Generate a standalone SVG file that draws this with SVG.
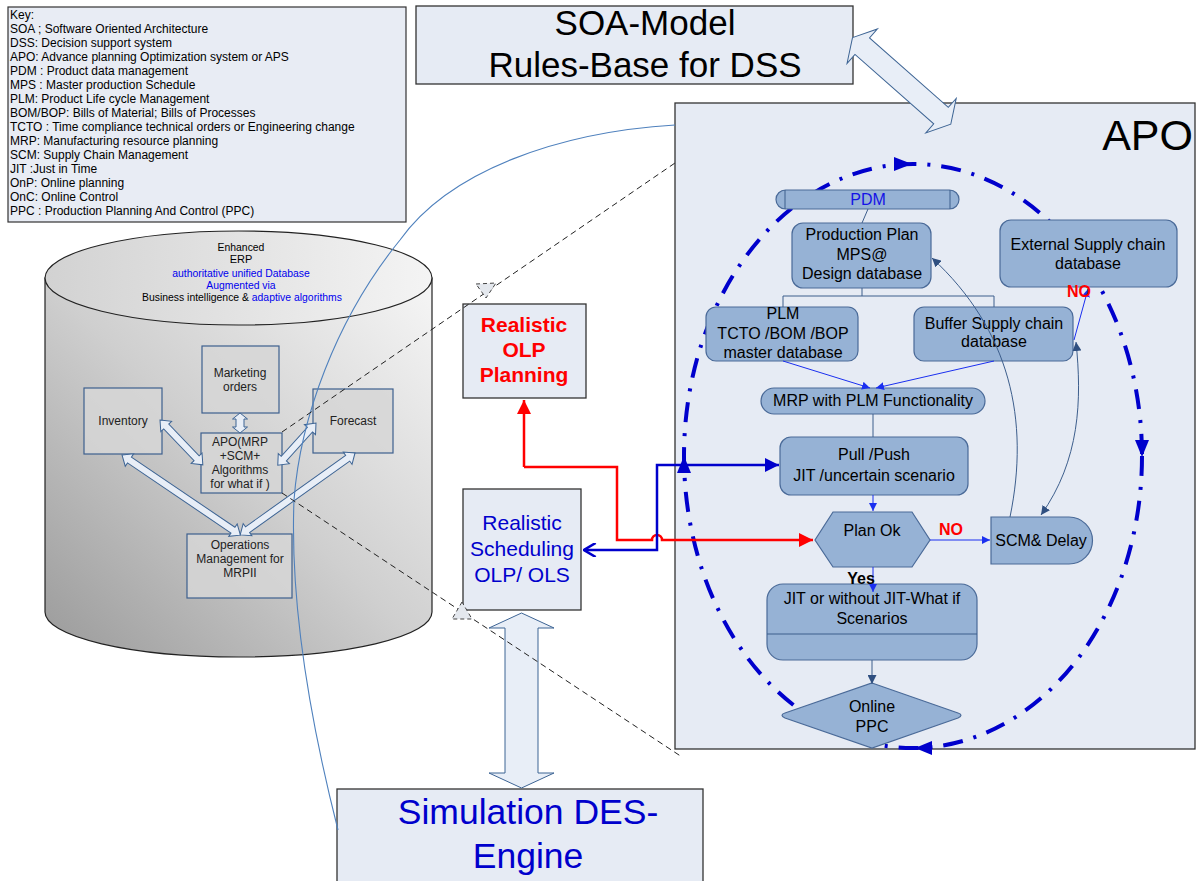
<svg xmlns="http://www.w3.org/2000/svg" width="1197" height="881" viewBox="0 0 1197 881">
<style>
text{font-family:"Liberation Sans",Arial,sans-serif;}
.k{font-size:12px;fill:#000;}
.c{text-anchor:middle;}
.pale{fill:#e6ebf4;stroke:#333;stroke-width:1.3;}
.node{fill:#96b2d5;stroke:#4a6a98;stroke-width:1.2;}
.gbox{fill:#d6d6d6;fill-opacity:0.85;stroke:#3d5f8e;stroke-width:1.2;}
.blk{fill:#e8eef7;stroke:#3d6494;stroke-width:1;}
.t16{font-size:16px;fill:#000;}
.t12{font-size:12px;fill:#222;}
.t10{font-size:10.4px;fill:#000;}
.blue{fill:#0000ee;}
.dash{fill:none;stroke:#222;stroke-width:1;stroke-dasharray:6 4;}
.ln{fill:none;stroke:#3d5e8c;stroke-width:1;}
.lnb{fill:none;stroke:#1a2ff0;stroke-width:1;}
</style>
<defs>
<linearGradient id="gBody" x1="0" y1="1" x2="1" y2="0">
<stop offset="0" stop-color="#9a9a9a"/>
<stop offset="0.5" stop-color="#cfcfcf"/>
<stop offset="1" stop-color="#f6f6f6"/>
</linearGradient>
<linearGradient id="gTop" x1="0" y1="0" x2="1" y2="0">
<stop offset="0" stop-color="#d2d2d2"/>
<stop offset="1" stop-color="#f4f4f4"/>
</linearGradient>
<marker id="mB" viewBox="0 0 10 10" refX="10" refY="5" markerWidth="8" markerHeight="8" markerUnits="userSpaceOnUse" orient="auto-start-reverse"><path d="M0,0 L10,5 L0,10 Z" fill="#1a2ff0"/></marker>
<marker id="mD" viewBox="0 0 10 10" refX="10" refY="5" markerWidth="9" markerHeight="9" markerUnits="userSpaceOnUse" orient="auto-start-reverse"><path d="M0,0 L10,5 L0,10 Z" fill="#2f4f80"/></marker>
<marker id="mR" viewBox="0 0 10 10" refX="10" refY="5" markerWidth="14" markerHeight="14" markerUnits="userSpaceOnUse" orient="auto-start-reverse"><path d="M0,0 L10,5 L0,10 Z" fill="#ff0000"/></marker>
<marker id="mBB" viewBox="0 0 10 10" refX="10" refY="5" markerWidth="14" markerHeight="14" markerUnits="userSpaceOnUse" orient="auto-start-reverse"><path d="M0,0 L10,5 L0,10 Z" fill="#0000cc"/></marker>
<marker id="mOpen" viewBox="0 0 12 12" refX="1" refY="6" markerWidth="14" markerHeight="14" markerUnits="userSpaceOnUse" orient="auto"><path d="M11,0 L1,6 L11,12" fill="none" stroke="#0000cc" stroke-width="2.2"/></marker>
</defs>

<rect width="1197" height="881" fill="#ffffff"/>

<!-- Key -->
<g id="key">
<rect x="8" y="7" width="398" height="215" fill="#e8ecf4" stroke="#333" stroke-width="1.2"/>
<text class="k" x="10" y="18.5">Key:</text>
<text class="k" x="10" y="32.5">SOA ; Software Oriented Architecture</text>
<text class="k" x="10" y="46.6">DSS: Decision support system</text>
<text class="k" x="10" y="60.6">APO: Advance planning Optimization system or APS</text>
<text class="k" x="10" y="74.7">PDM : Product data management</text>
<text class="k" x="10" y="88.7">MPS : Master production Schedule</text>
<text class="k" x="10" y="102.7">PLM: Product Life cycle Management</text>
<text class="k" x="10" y="116.8">BOM/BOP: Bills of Material; Bills of Processes</text>
<text class="k" x="10" y="130.8">TCTO : Time compliance technical orders or Engineering change</text>
<text class="k" x="10" y="144.9">MRP: Manufacturing resource planning</text>
<text class="k" x="10" y="158.9">SCM: Supply Chain Management</text>
<text class="k" x="10" y="172.9">JIT :Just in Time</text>
<text class="k" x="10" y="187">OnP: Online planning</text>
<text class="k" x="10" y="201">OnC: Online Control</text>
<text class="k" x="10" y="215">PPC : Production Planning And Control (PPC)</text>
</g>

<!-- SOA box -->
<g id="soa">
<rect x="416" y="6" width="437" height="78" class="pale" stroke="#444"/>
<text class="c" x="645" y="35" font-size="35" fill="#000">SOA-Model</text>
<text class="c" x="645" y="77" font-size="35" fill="#000">Rules-Base for DSS</text>
</g>

<!-- ERP cylinder -->
<g id="erp">
<path d="M45,278 L45,612 A193.5,45 0 0 0 432,612 L432,278 Z" fill="url(#gBody)" stroke="#222" stroke-width="1.2"/>
<ellipse cx="238.5" cy="278" rx="193.5" ry="47" fill="url(#gTop)" stroke="#222" stroke-width="1.2"/>
<text class="t10 c" x="241" y="251">Enhanced</text>
<text class="c" x="241" y="263" font-size="11" fill="#000">ERP</text>
<text class="t10 c blue" x="241" y="277">authoritative unified Database</text>
<text class="t10 c blue" x="241" y="289">Augmented via</text>
<text class="t10 c" x="242" y="301">Business intelligence &amp; <tspan fill="#0000ee">adaptive algorithms</tspan></text>
</g>

<g id="marketing">
<rect x="202" y="346" width="77" height="67" class="gbox"/>
<text class="t12 c" x="240" y="377">Marketing</text>
<text class="t12 c" x="240" y="391">orders</text>
</g>
<g id="inventory">
<rect x="84" y="388" width="78" height="66" class="gbox"/>
<text class="t12 c" x="123" y="425">Inventory</text>
</g>
<g id="forecast">
<rect x="313" y="389" width="80" height="64" class="gbox"/>
<text class="t12 c" x="353" y="425">Forecast</text>
</g>
<g id="apo-node">
<rect x="201" y="433" width="81" height="60" class="gbox"/>
<text class="t12 c" x="240" y="446">APO(MRP</text>
<text class="t12 c" x="240" y="460">+SCM+</text>
<text class="t12 c" x="240" y="474">Algorithms</text>
<text class="t12 c" x="240" y="488">for what if )</text>
</g>
<g id="operations">
<rect x="187" y="534" width="105" height="64" class="gbox"/>
<text class="t12 c" x="240" y="549">Operations</text>
<text class="t12 c" x="240" y="563">Management for</text>
<text class="t12 c" x="240" y="577">MRPII</text>
</g>

<!-- block arrows in ERP -->
<g id="erp-arrows">
<path class="blk" transform="translate(160,420) rotate(46.3)" d="M0,0 L9,-7.5 L9,-3.5 L53,-3.5 L53,-7.5 L62,0 L53,7.5 L53,3.5 L9,3.5 L9,7.5 Z"/>
<path class="blk" transform="translate(316,423) rotate(132.1)" d="M0,0 L9,-7.5 L9,-3.5 L48,-3.5 L48,-7.5 L57,0 L48,7.5 L48,3.5 L9,3.5 L9,7.5 Z"/>
<path class="blk" transform="translate(122,455) rotate(34.1)" d="M0,0 L9,-7.5 L9,-3.5 L134,-3.5 L134,-7.5 L143,0 L134,7.5 L134,3.5 L9,3.5 L9,7.5 Z"/>
<path class="blk" transform="translate(355,453) rotate(144.5)" d="M0,0 L9,-7.5 L9,-3.5 L132,-3.5 L132,-7.5 L141,0 L132,7.5 L132,3.5 L9,3.5 L9,7.5 Z"/>
<path class="blk" transform="translate(240,413) rotate(90)" d="M0,0 L6,-7.5 L6,-4 L14,-4 L14,-7.5 L20,0 L14,7.5 L14,4 L6,4 L6,7.5 Z"/>
</g>

<!-- Realistic OLP Planning -->
<g id="olp">
<rect x="463" y="304" width="123" height="94" class="pale"/>
<text class="c" x="524" y="332" font-size="21" font-weight="bold" fill="#ff0000">Realistic</text>
<text class="c" x="524" y="357" font-size="21" font-weight="bold" fill="#ff0000">OLP</text>
<text class="c" x="524" y="382" font-size="21" font-weight="bold" fill="#ff0000">Planning</text>
</g>

<!-- Realistic Scheduling -->
<g id="sched">
<rect x="463" y="489" width="118" height="121" class="pale"/>
<text class="c" x="522" y="530" font-size="21" fill="#0000cc">Realistic</text>
<text class="c" x="522" y="556" font-size="21" fill="#0000cc">Scheduling</text>
<text class="c" x="522" y="582" font-size="21" fill="#0000cc">OLP/ OLS</text>
</g>

<!-- Simulation -->
<g id="sim">
<rect x="337" y="789" width="366" height="100" class="pale" stroke="#555"/>
<text class="c" x="528" y="824" font-size="35.5" fill="#0000cc">Simulation DES-</text>
<text class="c" x="528" y="868" font-size="35.5" fill="#0000cc">Engine</text>
</g>

<!-- APO box -->
<g id="apo">
<rect x="675" y="103" width="520" height="646" class="pale"/>
<text x="1193" y="150" font-size="43" fill="#000" text-anchor="end">APO</text>
</g>

<!-- dash-dot cycle -->
<g id="cycle">
<ellipse cx="913" cy="456" rx="229" ry="292" fill="none" stroke="#0000cc" stroke-width="4" stroke-dasharray="20 11 3 11"/>
<polygon points="912,164 894,157 894,171" fill="#0000cc"/>
<polygon points="1142,457 1135,440 1149,440" fill="#0000cc"/>
<polygon points="915,748 932,741 932,755" fill="#0000cc"/>
<polygon points="684,456 677,473 691,473" fill="#0000cc"/>
</g>

<!-- APO flow nodes -->
<g id="pdm">
<rect x="776" y="190" width="183" height="19" rx="9.5" class="node"/>
<line x1="785" y1="190" x2="785" y2="209" class="ln"/>
<line x1="950" y1="190" x2="950" y2="209" class="ln"/>
<text class="c" x="868" y="205" font-size="16" fill="#1414e6">PDM</text>
</g>
<g id="prodplan">
<rect x="792" y="223" width="139" height="65" rx="11" class="node"/>
<text class="t16 c" x="862" y="240">Production Plan</text>
<text class="t16 c" x="862" y="260">MPS@</text>
<text class="t16 c" x="862" y="279">Design database</text>
</g>
<g id="external">
<rect x="1000" y="220" width="177" height="67" rx="11" class="node"/>
<text class="t16 c" x="1088" y="250">External Supply chain</text>
<text class="t16 c" x="1088" y="269">database</text>
</g>
<g id="plm">
<rect x="706" y="307" width="152" height="54" rx="10" class="node"/>
<text class="t16 c" x="783" y="319">PLM</text>
<text class="t16 c" x="783" y="339">TCTO /BOM /BOP</text>
<text class="t16 c" x="783" y="358">master database</text>
</g>
<g id="buffer">
<rect x="914" y="307" width="159" height="54" rx="10" class="node"/>
<text class="t16 c" x="994" y="329">Buffer Supply chain</text>
<text class="t16 c" x="994" y="347">database</text>
</g>
<g id="mrp">
<rect x="761" y="388" width="224" height="26" rx="13" class="node"/>
<text class="t16 c" x="873" y="406">MRP with PLM Functionality</text>
</g>
<g id="pullpush">
<rect x="780" y="437" width="188" height="58" rx="11" class="node"/>
<text class="t16 c" x="874" y="460">Pull /Push</text>
<text class="t16 c" x="874" y="481">JIT /uncertain scenario</text>
</g>
<g id="planok">
<polygon points="833,512 912,512 930,540 912,567 833,567 815,540" class="node"/>
<text class="t16 c" x="872" y="536">Plan Ok</text>
</g>
<g id="scmdelay">
<path d="M991,517 H1069 A23.5,23.5 0 0 1 1069,564 H991 Z" class="node"/>
<text class="t16 c" x="1041" y="546">SCM&amp; Delay</text>
</g>
<g id="jit">
<rect x="767" y="584" width="210" height="76" rx="16" class="node"/>
<line x1="767" y1="634" x2="977" y2="634" class="ln"/>
<text class="t16 c" x="872" y="604">JIT or without JIT-What if</text>
<text class="t16 c" x="872" y="624">Scenarios</text>
</g>
<g id="onlineppc">
<path d="M872,683 L958,713 Q964,715 958,718 L872,748 L785,718 Q779,715 785,713 Z" class="node"/>
<text class="t16 c" x="872" y="712">Online</text>
<text class="t16 c" x="872" y="732">PPC</text>
</g>

<!-- connectors -->
<g id="connectors">
<path class="blk" transform="translate(852.5,37.6) rotate(41.4)" d="M0,0 L13,-23 L13,-11 L118,-11 L118,-23 L131,0 L118,23 L118,11 L13,11 L13,23 Z"/>
<polygon class="blk" points="521.5,613 554,628 538,628 538,773 554,773 521.5,788 489,773 505,773 505,628 489,628"/>

<path d="M675,125 C560,132 450,170 400,240 C335,320 300,420 294,500 C290,600 310,720 338,830" fill="none" stroke="#4f81bd" stroke-width="1.1"/>

<line x1="282" y1="432" x2="675" y2="163" class="dash"/>
<polygon points="476,284 496,283 486,298" fill="#e4e8ee" stroke="#444" stroke-width="1" stroke-dasharray="4 3"/>
<line x1="282" y1="493" x2="682" y2="757" class="dash"/>
<polygon points="462,602 452,619 472,619" fill="#e4e8ee" stroke="#444" stroke-width="1" stroke-dasharray="4 3"/>

<path d="M524,467 L617,467 L617,540 L652,540 A5,5 0 0 1 662,540 L813,540" fill="none" stroke="#ff0000" stroke-width="2.5" marker-end="url(#mR)"/>
<path d="M524,467 L524,400" fill="none" stroke="#ff0000" stroke-width="2.5" marker-end="url(#mR)"/>
<path d="M584,550 L657,550 L657,465 L779,465" fill="none" stroke="#0000cc" stroke-width="2.5" marker-start="url(#mOpen)" marker-end="url(#mBB)"/>

<line x1="868" y1="209" x2="862" y2="223" class="ln"/>
<path d="M862,288 V296 M783,296 H994 M783,296 V307 M994,296 V307" class="ln"/>
<path d="M783,361 L870,388" class="lnb" marker-end="url(#mB)"/>
<path d="M994,361 L876,388" class="lnb" marker-end="url(#mB)"/>
<path d="M873,414 V437" class="ln"/>
<path d="M873,495 V511" class="lnb" marker-end="url(#mB)"/>
<path d="M930,540 H990" class="lnb" marker-end="url(#mB)"/>
<path d="M873,567 V592" class="lnb" marker-end="url(#mB)"/>
<path d="M872,660 V684" class="ln" marker-end="url(#mD)"/>
<path d="M1010,517 C1030,420 1010,330 932,258" class="ln" marker-end="url(#mD)"/>
<path d="M1074,340 L1088,289" class="lnb" marker-end="url(#mB)"/>
<path d="M1076,342 C1082,400 1080,460 1041,515" class="ln" marker-start="url(#mD)" marker-end="url(#mD)"/>

<text class="c" x="1079" y="297" font-size="16" font-weight="bold" fill="#ff0000">NO</text>
<text class="c" x="951" y="535" font-size="16" font-weight="bold" fill="#ff0000">NO</text>
<text class="c" x="861" y="584" font-size="16" font-weight="bold" fill="#000">Yes</text>
</g>
</svg>
